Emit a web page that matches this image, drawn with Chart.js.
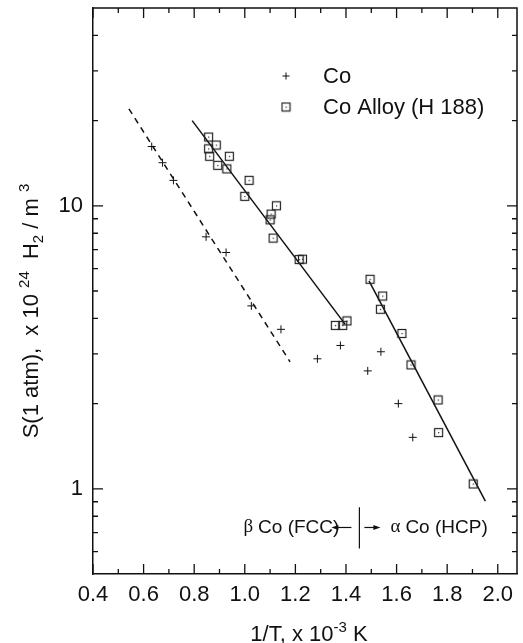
<!DOCTYPE html>
<html><head><meta charset="utf-8">
<script src="https://cdn.jsdelivr.net/npm/chart.js@4/dist/chart.umd.min.js"></script>
<style>html,body{margin:0;padding:0;background:#fff;overflow:hidden}#wrap{width:523px;height:643px}</style>
</head><body><div id="wrap"><canvas id="c" width="523" height="643"></canvas></div>
<script>
// ---- data ----
const coX = [0.632,0.675,0.718,0.847,0.926,1.026,1.143,1.287,1.378,1.486,1.538,1.607,1.664];
const coY = [16.2,14.2,12.3,7.77,6.84,4.43,3.66,2.88,3.21,2.61,3.05,2.00,1.52];
const alloyX = [0.857,0.887,0.857,0.861,0.939,0.893,0.929,1.017,1.000,1.125,1.104,1.100,1.112,1.228,1.215,1.358,1.387,1.404,1.495,1.545,1.536,1.621,1.657,1.764,1.766,1.903];
const alloyY = [17.5,16.4,15.9,14.96,14.96,13.9,13.5,12.3,10.8,10.0,9.35,8.92,7.69,6.48,6.46,3.78,3.78,3.92,5.50,4.80,4.31,3.54,2.74,2.06,1.58,1.04];
const fitCoX = [0.542,1.179],  fitCoY = [22.0,2.81];
const fitFccX = [0.792,1.397], fitFccY = [20.0,3.81];
const fitHcpX = [1.491,1.951], fitHcpY = [5.43,0.904];
const xTicks = [0.4,0.6,0.8,1.0,1.2,1.4,1.6,1.8,2.0];
const xMinor = [0.5,0.7,0.9,1.1,1.3,1.5,1.7,1.9];
const yTicks = [1,10];
const yMinor = [0.6,0.7,0.8,0.9,2,3,4,5,6,7,8,9,20,30,40];
const legendLabels = ['Co','Co Alloy (H 188)'];
const phaseBoundaryX = 1.453;           // beta/alpha transition marker
const phaseLineY = [0.615,0.86];
const phaseTextY = 0.73;
const phaseLabels = ['Co (FCC)','Co (HCP)'];

const INK = '#111';
const SANS = '"Liberation Sans", Arial, sans-serif';

function pts(xs, ys){ return xs.map((x,i)=>({x:x,y:ys[i]})); }

// square marker with centre dot
const sq = document.createElement('canvas');
sq.width = 11; sq.height = 11;
(function(){
  const g = sq.getContext('2d');
  g.strokeStyle = '#222'; g.lineWidth = 1.2;
  g.strokeRect(1.5,1.5,8,8);
  g.fillStyle = '#222'; g.fillRect(5,5,1.2,1.2);
})();

function drawCross(ctx,x,y,r){
  ctx.beginPath(); ctx.moveTo(x-r,y); ctx.lineTo(x+r,y); ctx.moveTo(x,y-r); ctx.lineTo(x,y+r); ctx.stroke();
}
function arrow(ctx,x1,y,x2){
  const d = x2>x1?1:-1;
  ctx.beginPath(); ctx.moveTo(x1,y); ctx.lineTo(x2-d*5,y); ctx.stroke();
  ctx.beginPath(); ctx.moveTo(x2,y); ctx.lineTo(x2-d*7,y-2.5); ctx.lineTo(x2-d*7,y+2.5); ctx.closePath(); ctx.fill();
}
function drawSegs(ctx, segs, cx, y){
  let total = 0;
  segs.forEach(s=>{ ctx.font = s[1]+'px '+SANS; total += ctx.measureText(s[0]).width; });
  let x = cx - total/2;
  segs.forEach(s=>{ ctx.font = s[1]+'px '+SANS; ctx.fillText(s[0], x, y + s[2]); x += ctx.measureText(s[0]).width; });
}

const decor = {
  id:'decor',
  afterDraw(chart){
    const ctx = chart.ctx, a = chart.chartArea, xs = chart.scales.x, ys = chart.scales.y;
    ctx.save();
    ctx.strokeStyle = INK; ctx.fillStyle = INK; ctx.lineWidth = 1.5;
    // top and right frame
    ctx.beginPath(); ctx.moveTo(a.left,a.top); ctx.lineTo(a.right,a.top); ctx.lineTo(a.right,a.bottom); ctx.stroke();
    // inward ticks
    ctx.lineWidth = 1.3;
    const tx = (v,L)=>{ const p = xs.getPixelForValue(v); ctx.beginPath();
      ctx.moveTo(p,a.bottom); ctx.lineTo(p,a.bottom-L); ctx.moveTo(p,a.top); ctx.lineTo(p,a.top+L); ctx.stroke(); };
    const ty = (v,L)=>{ const p = ys.getPixelForValue(v); ctx.beginPath();
      ctx.moveTo(a.left,p); ctx.lineTo(a.left+L,p); ctx.moveTo(a.right,p); ctx.lineTo(a.right-L,p); ctx.stroke(); };
    xTicks.forEach(v=>tx(v,10)); xMinor.forEach(v=>tx(v,5));
    yTicks.forEach(v=>ty(v,10)); yMinor.forEach(v=>ty(v,5));

    // legend
    ctx.lineWidth = 1;
    const lx = a.left + 193, ly1 = a.top + 68, ly2 = a.top + 99;
    drawCross(ctx,lx,ly1,3.5);
    ctx.drawImage(sq, lx-5.5, ly2-5.5);
    ctx.font = '22px ' + SANS; ctx.textBaseline = 'middle'; ctx.textAlign = 'left';
    ctx.fillText(legendLabels[0], lx+37, ly1+1);
    ctx.fillText(legendLabels[1], lx+37, ly2+1);

    // phase annotation
    const bx = xs.getPixelForValue(phaseBoundaryX);
    const yA = ys.getPixelForValue(phaseLineY[0]), yB = ys.getPixelForValue(phaseLineY[1]);
    const yt = ys.getPixelForValue(phaseTextY);
    ctx.lineWidth = 1.2;
    ctx.beginPath(); ctx.moveTo(bx,yA); ctx.lineTo(bx,yB); ctx.stroke();
    arrow(ctx,bx-8,yt,bx-28);
    arrow(ctx,bx+5,yt,bx+21);
    ctx.font = '19px ' + SANS; ctx.textBaseline = 'middle';
    ctx.textAlign = 'right';
    ctx.fillText(phaseLabels[0], bx-20, yt);
    const w1 = ctx.measureText(phaseLabels[0]).width;
    ctx.font = '19px "Liberation Serif", "DejaVu Serif", serif';
    ctx.fillText('\u03B2', bx-20-w1-5, yt);
    ctx.textAlign = 'left';
    ctx.fillText('\u03B1', bx+31, yt);
    ctx.font = '19px ' + SANS;
    ctx.fillText(phaseLabels[1], bx+46, yt);

    // x axis title
    ctx.textBaseline = 'alphabetic'; ctx.textAlign = 'left';
    const segsX = [['1/T, x 10',22,0],['-3',15,-9],[' K',22,0]];
    drawSegs(ctx, segsX, (a.left+a.right)/2 + 4, 641);
    // y axis title (rotated)
    ctx.save();
    ctx.translate(38, 311);
    ctx.rotate(-Math.PI/2);
    const segsY = [['S(1 atm),  x 10 ',22,0],['24',15,-9],['  H',22,0],['2',15,5],[' / m ',22,0],['3',15,-9]];
    drawSegs(ctx, segsY, 0, 0);
    ctx.restore();
    ctx.restore();
  }
};

new Chart(document.getElementById('c'), {
  type:'scatter',
  data:{datasets:[
    {label:'Co', data:pts(coX,coY), pointStyle:'cross', pointRadius:4, borderColor:INK, borderWidth:1, showLine:false},
    {label:'Co Alloy (H 188)', data:pts(alloyX,alloyY), pointStyle:sq, pointRadius:5, showLine:false},
    {label:'Co fit', data:pts(fitCoX,fitCoY), showLine:true, pointRadius:0, borderColor:INK, borderWidth:1.5, borderDash:[6,5]},
    {label:'FCC fit', data:pts(fitFccX,fitFccY), showLine:true, pointRadius:0, borderColor:INK, borderWidth:1.5},
    {label:'HCP fit', data:pts(fitHcpX,fitHcpY), showLine:true, pointRadius:0, borderColor:INK, borderWidth:1.5}
  ]},
  options:{
    responsive:false, animation:false, devicePixelRatio:1,
    layout:{padding:{top:8,right:1,left:0,bottom:0}},
    plugins:{legend:{display:false}, tooltip:{enabled:false}},
    scales:{
      x:{type:'linear', min:0.4, max:2.076,
        grid:{display:false, drawTicks:false}, border:{display:true,color:INK,width:1.5},
        afterBuildTicks:s=>{ s.ticks = xTicks.map(v=>({value:v})); },
        ticks:{callback:v=>Number(v).toFixed(1), font:{family:SANS,size:22}, color:INK, padding:8, maxRotation:0, autoSkip:false},
        afterFit:s=>{ s.height = 69; s.paddingLeft = 0; s.paddingRight = 0; }},
      y:{type:'logarithmic', min:0.5, max:50,
        grid:{display:false, drawTicks:false}, border:{display:true,color:INK,width:1.5},
        afterBuildTicks:s=>{ s.ticks = yTicks.map(v=>({value:v})); },
        ticks:{callback:v=>String(v), font:{family:SANS,size:22}, color:INK, padding:10, autoSkip:false},
        afterFit:s=>{ s.width = 93; s.paddingTop = 0; s.paddingBottom = 0; }}
    }
  },
  plugins:[decor]
});
</script></body></html>
